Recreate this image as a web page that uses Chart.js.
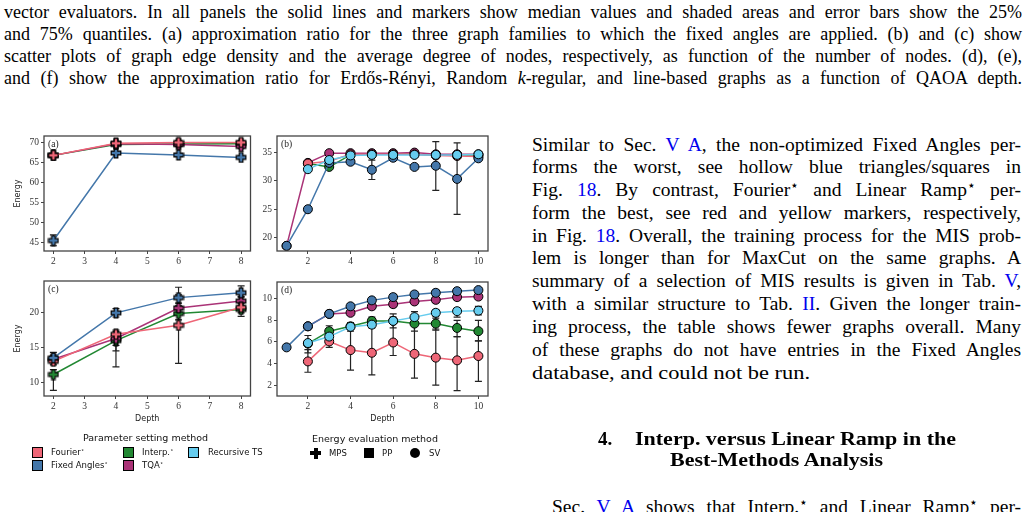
<!DOCTYPE html>
<html>
<head>
<meta charset="utf-8">
<script src="https://cdn.jsdelivr.net/npm/chart.js@4.4.1/dist/chart.umd.min.js"></script>
<style>
  body { margin: 0; width: 1028px; height: 512px; overflow: hidden; background: #fff; position: relative; font-family: "Liberation Serif", serif; color: #000; }
  canvas { position: absolute; }
  .ln { position: absolute; white-space: nowrap; transform-origin: 0 50%; line-height: 20px; }
  .cap { font-size: 18px; }
  .body { font-size: 19.5px; }
  .hd { font-size: 19px; font-weight: bold; }
  .ref { color: #0000ee; }
  .st { font-size: 0.7em; position: relative; top: -0.45em; line-height: 0; }
  .lg { position: absolute; font-family: "DejaVu Sans", sans-serif; font-size: 8.5px; line-height: 12px; white-space: nowrap; color: #111; }
  .lgt { font-size: 9.5px; }
  .sw { position: absolute; width: 9px; height: 9px; border: 1px solid #000; }
</style>
</head>
<body>

<!-- caption -->
<div class="ln cap" style="left:4px;top:2px" data-w="1018">vector evaluators. In all panels the solid lines and markers show median values and shaded areas and error bars show the 25%</div>
<div class="ln cap" style="left:4px;top:24px" data-w="1018">and 75% quantiles. (a) approximation ratio for the three graph families to which the fixed angles are applied. (b) and (c) show</div>
<div class="ln cap" style="left:4px;top:46px" data-w="1018">scatter plots of graph edge density and the average degree of nodes, respectively, as function of the number of nodes. (d), (e),</div>
<div class="ln cap" style="left:4px;top:68px" data-w="1018">and (f) show the approximation ratio for Erdős-Rényi, Random <i>k</i>-regular, and line-based graphs as a function of QAOA depth.</div>

<!-- charts -->
<canvas id="pa" width="258" height="150" style="left:0;top:126px"></canvas>
<canvas id="pb" width="245" height="150" style="left:255px;top:126px"></canvas>
<canvas id="pc" width="258" height="160" style="left:0;top:271px"></canvas>
<canvas id="pd" width="245" height="160" style="left:255px;top:272px"></canvas>

<!-- legends -->
<div class="lg lgt" style="left:83px;top:432px">Parameter setting method</div>
<div class="sw" style="left:32px;top:447px;background:#EE6677"></div><div class="lg" style="left:51px;top:446px">Fourier<span class="st">⋆</span></div>
<div class="sw" style="left:123px;top:447px;background:#228833"></div><div class="lg" style="left:142px;top:446px">Interp.<span class="st">⋆</span></div>
<div class="sw" style="left:188px;top:447px;background:#66CCEE"></div><div class="lg" style="left:208px;top:446px">Recursive TS</div>
<div class="sw" style="left:32px;top:460px;background:#4477AA"></div><div class="lg" style="left:51px;top:459px">Fixed Angles<span class="st">⋆</span></div>
<div class="sw" style="left:123px;top:460px;background:#AA3377"></div><div class="lg" style="left:142px;top:459px">TQA<span class="st">⋆</span></div>

<div class="lg lgt" style="left:312px;top:433px">Energy evaluation method</div>
<div style="position:absolute;left:310px;top:451px;width:11px;height:4px;background:#000"></div>
<div style="position:absolute;left:313.5px;top:447.5px;width:4px;height:11px;background:#000"></div>
<div class="lg" style="left:329px;top:447px">MPS</div>
<div style="position:absolute;left:364px;top:448px;width:10px;height:10px;background:#000"></div>
<div class="lg" style="left:382px;top:447px">PP</div>
<div style="position:absolute;left:410px;top:448px;width:10px;height:10px;border-radius:50%;background:#000"></div>
<div class="lg" style="left:429px;top:447px">SV</div>

<!-- right column -->
<div class="ln body" style="left:532px;top:135px" data-w="489">Similar to Sec. <span class="ref">V A</span>, the non-optimized Fixed Angles per-</div>
<div class="ln body" style="left:532px;top:157px" data-w="489">forms the worst, see hollow blue triangles/squares in</div>
<div class="ln body" style="left:532px;top:180px" data-w="489">Fig. <span class="ref">18</span>. By contrast, Fourier<span class="st">⋆</span> and Linear Ramp<span class="st">⋆</span> per-</div>
<div class="ln body" style="left:532px;top:203px" data-w="489">form the best, see red and yellow markers, respectively,</div>
<div class="ln body" style="left:532px;top:226px" data-w="489">in Fig. <span class="ref">18</span>. Overall, the training process for the MIS prob-</div>
<div class="ln body" style="left:532px;top:248px" data-w="489">lem is longer than for MaxCut on the same graphs. A</div>
<div class="ln body" style="left:532px;top:271px" data-w="489">summary of a selection of MIS results is given in Tab. <span class="ref">V</span>,</div>
<div class="ln body" style="left:532px;top:294px" data-w="489">with a similar structure to Tab. <span class="ref">II</span>. Given the longer train-</div>
<div class="ln body" style="left:532px;top:317px" data-w="489">ing process, the table shows fewer graphs overall. Many</div>
<div class="ln body" style="left:532px;top:340px" data-w="489">of these graphs do not have entries in the Fixed Angles</div>
<div class="ln body" style="left:532px;top:363px" data-w="278" data-s="1">database, and could not be run.</div>
<div class="ln hd" style="left:598px;top:429px">4.</div>
<div class="ln hd" style="left:635px;top:429px" data-w="321" data-s="1">Interp. versus Linear Ramp in the</div>
<div class="ln hd" style="left:670px;top:450px" data-w="213" data-s="1">Best-Methods Analysis</div>
<div class="ln body" style="left:552px;top:497px" data-w="469">Sec. <span class="ref">V A</span> shows that Interp.<span class="st">⋆</span> and Linear Ramp<span class="st">⋆</span> per-</div>

<script>
// colours per parameter setting method
const colFourier = "#EE6677"
const colFixed = "#4477AA"
const colInterp = "#228833"
const colTQA = "#AA3377"
const colRecursive = "#66CCEE"

// (a) MPS, depth 2..8
const depthsA = [2, 4, 6, 8]
const aFixed = [45.6, 67.3, 66.8, 66.2]
const aFixedLo = [44.3, 67.0, 66.5, 65.9]
const aFixedHi = [47.0, 67.6, 67.1, 66.5]
const aTQA = [66.7, 69.6, 69.4, 68.9]
const aTQALo = [66.4, 69.3, 69.0, 68.5]
const aTQAHi = [67.0, 69.9, 69.8, 69.3]
const aInterp = [66.7, 69.4, 69.5, 69.6]
const aFourier = [66.7, 69.7, 69.9, 69.9]
const aFourierLo = [66.4, 69.4, 69.5, 69.5]
const aFourierHi = [67.0, 70.0, 70.3, 70.3]

// (b) SV, depth 1..10
const depthsB = [1, 2, 3, 4, 5, 6, 7, 8, 9, 10]
const bFixed = [18.6, 25.0, 33.1, 33.3, 31.9, 34.0, 32.4, 32.6, 30.3, 33.9]
const bFixedLo = [null, null, null, null, 30.2, null, null, 28.3, 24.1, null]
const bFixedHi = [null, null, null, null, 33.6, null, null, 36.8, 36.6, null]
const bTQA = [18.6, 33.1, 34.8, 34.8, 34.8, 34.8, 34.9, 34.6, 34.6, 34.6]
const bFourier = [null, 33.0, 33.4, 34.6, 34.6, 34.6, 34.6, 34.4, 34.3, 34.2]
const bInterp = [null, 33.0, 32.4, 34.5, 34.6, 34.6, 34.6, 34.5, 34.5, 34.5]
const bRecursive = [null, 32.0, 33.6, 34.4, 34.5, 34.5, 34.5, 34.5, 34.5, 34.6]

// (c) MPS, depth 2..8
const cFixed = [13.5, 20.0, 22.2, 22.9]
const cFixedLo = [13.0, 19.4, 21.0, 22.3]
const cFixedHi = [14.3, 20.6, 23.7, 23.9]
const cFourier = [13.0, 16.9, 18.2, 20.8]
const cFourierLo = [12.5, 12.2, 12.7, 20.0]
const cFourierHi = [13.6, 17.5, 22.6, 21.4]
const cTQA = [13.3, 16.3, 20.7, 21.7]
const cTQALo = [12.9, 15.3, 20.0, 21.0]
const cTQAHi = [13.9, 17.3, 21.4, 22.3]
const cInterp = [11.1, 16.0, 19.9, 20.5]
const cInterpLo = [8.8, 14.5, 19.0, 19.5]
const cInterpHi = [11.8, 16.6, 20.7, 21.0]

// (d) SV, depth 1..10
const dFixed = [5.5, 7.45, 8.6, 9.3, 9.85, 10.15, 10.4, 10.55, 10.7, 10.8]
const dFixedLo = [5.4, 7.25, 8.35, 9.05, 9.6, 9.9, 10.15, 10.3, 10.45, 10.55]
const dFixedHi = [5.6, 7.65, 8.85, 9.55, 10.1, 10.4, 10.6, 10.8, 10.95, 11.0]
const dTQA = [null, 7.45, 8.6, 8.7, 9.3, 9.5, 9.75, 9.9, 10.15, 10.2]
const dTQALo = [null, 7.3, 8.45, 8.45, 9.05, 9.25, 9.5, 9.65, 9.9, 9.95]
const dTQAHi = [null, 7.6, 8.75, 8.95, 9.5, 9.75, 10.0, 10.15, 10.4, 10.45]
const dRecursive = [null, 5.9, 6.5, 7.4, 7.6, 7.95, 8.3, 8.7, 8.85, 8.9]
const dRecursiveLo = [null, null, null, null, null, null, 7.9, 8.2, 8.3, 8.5]
const dRecursiveHi = [null, null, null, null, null, null, 8.8, 9.0, 9.1, 9.3]
const dInterp = [null, 5.85, 7.0, 7.45, 7.95, 7.95, 7.7, 7.7, 7.3, 7.0]
const dInterpLo = [null, 5.0, 6.5, 7.0, 7.3, 7.3, 7.0, 7.1, 6.5, 6.1]
const dInterpHi = [null, 6.6, 7.5, 7.8, 8.3, 8.6, 8.4, 8.4, 8.0, 8.0]
const dFourier = [null, 4.2, 6.05, 5.25, 5.0, 5.95, 4.9, 4.55, 4.3, 4.7]
const dFourierLo = [null, 3.2, 5.5, 3.4, 2.95, 4.75, 2.65, 2.0, 1.5, 2.35]
const dFourierHi = [null, 5.3, 6.3, 7.6, 7.5, 8.3, 7.6, 7.2, 6.5, 6.1]

// tick labels
const xTicksAC = [2, 3, 4, 5, 6, 7, 8]
const xTicksBD = [2, 4, 6, 8, 10]
const yTicksA = [45, 50, 55, 60, 65, 70]
const yTicksB = [20, 25, 30, 35]
const yTicksC = [10, 15, 20]
const yTicksD = [2, 4, 6, 8, 10]

function plusImg(color) {
  const c = document.createElement("canvas")
  c.width = c.height = 12
  const g = c.getContext("2d")
  const m = 6, a = 1.8, b = 4.8
  g.beginPath()
  g.moveTo(m - a, m - b); g.lineTo(m + a, m - b); g.lineTo(m + a, m - a)
  g.lineTo(m + b, m - a); g.lineTo(m + b, m + a); g.lineTo(m + a, m + a)
  g.lineTo(m + a, m + b); g.lineTo(m - a, m + b); g.lineTo(m - a, m + a)
  g.lineTo(m - b, m + a); g.lineTo(m - b, m - a); g.lineTo(m - a, m - a)
  g.closePath()
  g.fillStyle = color
  g.fill()
  g.lineWidth = 1.2
  g.strokeStyle = "#000"
  g.stroke()
  return c
}

function series(depths, vals, color, marker, lo, hi) {
  const ds = {
    data: depths.map((d, i) => ({ x: d, y: vals[i] })),
    borderColor: color,
    borderWidth: 1.5,
    backgroundColor: color,
    tension: 0,
    lo: lo,
    hi: hi
  }
  if (marker === "plus") {
    ds.pointStyle = plusImg(color)
    ds.pointRadius = 6
  } else {
    ds.pointStyle = "circle"
    ds.pointRadius = 4.5
    ds.pointBackgroundColor = color
    ds.pointBorderColor = "#000"
    ds.pointBorderWidth = 1
  }
  return ds
}

const errorBars = {
  id: "errorBars",
  beforeDatasetsDraw(chart) {
    const { ctx, scales: { x, y } } = chart
    ctx.save()
    ctx.strokeStyle = "#222"
    ctx.lineWidth = 1.2
    chart.data.datasets.forEach(ds => {
      if (!ds.lo) return
      ds.data.forEach((p, i) => {
        if (ds.lo[i] == null) return
        const px = x.getPixelForValue(p.x)
        const y0 = y.getPixelForValue(ds.lo[i])
        const y1 = y.getPixelForValue(ds.hi[i])
        ctx.beginPath()
        ctx.moveTo(px, y0); ctx.lineTo(px, y1)
        ctx.moveTo(px - 3.5, y0); ctx.lineTo(px + 3.5, y0)
        ctx.moveTo(px - 3.5, y1); ctx.lineTo(px + 3.5, y1)
        ctx.stroke()
      })
    })
    ctx.restore()
  }
}

function frame(label) {
  return {
    id: "frame",
    afterDraw(chart) {
      const { ctx, chartArea: a } = chart
      ctx.save()
      ctx.strokeStyle = "#444"
      ctx.lineWidth = 1.3
      ctx.strokeRect(a.left, a.top, a.right - a.left, a.bottom - a.top)
      ctx.fillStyle = "#222"
      ctx.font = "9.5px 'Liberation Serif'"
      ctx.textBaseline = "middle"
      ctx.fillText(label, a.left + 4, a.top + 8)
      ctx.restore()
    }
  }
}

const tickFont = { family: "Liberation Serif", size: 9.5 }
const titleFont = { family: "DejaVu Sans", size: 8 }

function makeChart(id, label, datasets, o) {
  new Chart(document.getElementById(id), {
    type: "line",
    data: { datasets: datasets },
    options: {
      responsive: false,
      animation: false,
      events: [],
      layout: { padding: { top: 10, right: o.padRight, left: 0, bottom: 0 } },
      scales: {
        x: {
          type: "linear",
          min: o.xmin,
          max: o.xmax,
          afterBuildTicks: s => { s.ticks = o.xticks.map(v => ({ value: v })) },
          afterFit: s => { s.height = o.xh },
          grid: { drawOnChartArea: false, tickLength: 3, color: "#444" },
          border: { display: false },
          ticks: { font: tickFont, color: "#333", padding: 2, maxRotation: 0, autoSkip: false },
          title: { display: o.depth, text: "Depth", font: titleFont, color: "#222", padding: { top: 0, bottom: o.titlePad } }
        },
        y: {
          min: o.ymin,
          max: o.ymax,
          afterBuildTicks: s => { s.ticks = o.yticks.map(v => ({ value: v })) },
          afterFit: s => { s.width = o.yw },
          grid: { drawOnChartArea: false, tickLength: 3, color: "#444" },
          border: { display: false },
          ticks: { font: tickFont, color: "#333", padding: 2 },
          title: { display: o.energy, text: "Energy", font: titleFont, color: "#222", padding: { top: 13, bottom: 0 } }
        }
      },
      plugins: { legend: { display: false }, tooltip: { enabled: false } }
    },
    plugins: [errorBars, frame(label)]
  })
}

makeChart("pa", "(a)", [
  series(depthsA, aFourier, colFourier, "plus", aFourierLo, aFourierHi),
  series(depthsA, aTQA, colTQA, "plus", aTQALo, aTQAHi),
  series(depthsA, aInterp, colInterp, "plus"),
  series(depthsA, aFixed, colFixed, "plus", aFixedLo, aFixedHi)
], { xmin: 1.7, xmax: 8.3, ymin: 43, ymax: 71.5, xticks: xTicksAC, yticks: yTicksA, xh: 25, yw: 44, padRight: 6, depth: false, energy: true })

makeChart("pb", "(b)", [
  series(depthsB, bRecursive, colRecursive, "circle"),
  series(depthsB, bFixed, colFixed, "circle", bFixedLo, bFixedHi),
  series(depthsB, bFourier, colFourier, "circle"),
  series(depthsB, bTQA, colTQA, "circle"),
  series(depthsB, bInterp, colInterp, "circle")
], { xmin: 0.55, xmax: 10.45, ymin: 17.7, ymax: 37.8, xticks: xTicksBD, yticks: yTicksB, xh: 25, yw: 22, padRight: 12, depth: false, energy: false })

makeChart("pc", "(c)", [
  series(depthsA, cFixed, colFixed, "plus", cFixedLo, cFixedHi),
  series(depthsA, cFourier, colFourier, "plus", cFourierLo, cFourierHi),
  series(depthsA, cTQA, colTQA, "plus", cTQALo, cTQAHi),
  series(depthsA, cInterp, colInterp, "plus", cInterpLo, cInterpHi)
], { xmin: 1.7, xmax: 8.3, ymin: 8.0, ymax: 24.6, xticks: xTicksAC, yticks: yTicksC, xh: 35, yw: 44, padRight: 6, depth: true, titlePad: 7, energy: true })

makeChart("pd", "(d)", [
  series(depthsB, dFixed, colFixed, "circle", dFixedLo, dFixedHi),
  series(depthsB, dTQA, colTQA, "circle", dTQALo, dTQAHi),
  series(depthsB, dRecursive, colRecursive, "circle", dRecursiveLo, dRecursiveHi),
  series(depthsB, dInterp, colInterp, "circle", dInterpLo, dInterpHi),
  series(depthsB, dFourier, colFourier, "circle", dFourierLo, dFourierHi)
], { xmin: 0.55, xmax: 10.45, ymin: 1.0, ymax: 11.55, xticks: xTicksBD, yticks: yTicksD, xh: 36, yw: 22, padRight: 12, depth: true, titlePad: 8, energy: false })

// stretch or squeeze each text line to its measured width in the reference
document.querySelectorAll(".ln[data-w]").forEach(el => {
  const target = +el.dataset.w
  const w = el.getBoundingClientRect().width
  const spaces = (el.textContent.match(/ /g) || []).length
  if (w < target && spaces > 0 && !el.dataset.s) el.style.wordSpacing = ((target - w) / spaces) + "px"
  else el.style.transform = "scaleX(" + (target / w) + ")"
})
</script>
</body>
</html>
